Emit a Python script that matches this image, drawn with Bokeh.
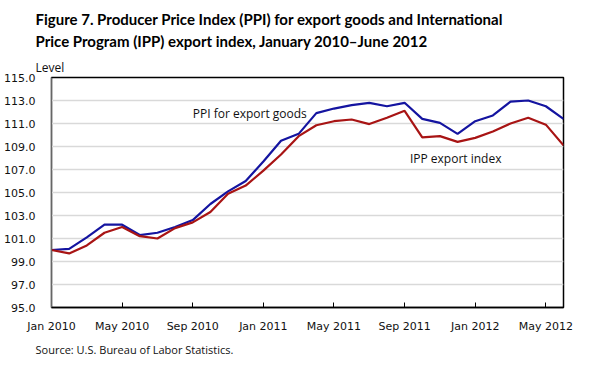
from bokeh.plotting import figure
from bokeh.models import FixedTicker, Label, NumeralTickFormatter, Title
from bokeh.embed import file_html
from bokeh.resources import INLINE

months = ["Jan 2010", "Feb 2010", "Mar 2010", "Apr 2010", "May 2010", "Jun 2010",
          "Jul 2010", "Aug 2010", "Sep 2010", "Oct 2010", "Nov 2010", "Dec 2010",
          "Jan 2011", "Feb 2011", "Mar 2011", "Apr 2011", "May 2011", "Jun 2011",
          "Jul 2011", "Aug 2011", "Sep 2011", "Oct 2011", "Nov 2011", "Dec 2011",
          "Jan 2012", "Feb 2012", "Mar 2012", "Apr 2012", "May 2012", "Jun 2012"]

ppi_export = [100.0, 100.1, 101.1, 102.2, 102.2, 101.3, 101.5, 102.0, 102.6, 104.0, 105.1, 106.0,
              107.7, 109.5, 110.1, 111.9, 112.3, 112.6, 112.8, 112.5, 112.8, 111.4, 111.05, 110.1,
              111.2, 111.7, 112.9, 113.0, 112.5, 111.4]

ipp_export = [100.0, 99.7, 100.4, 101.5, 102.0, 101.2, 101.0, 101.9, 102.4, 103.3, 104.9, 105.6,
              106.9, 108.3, 109.9, 110.85, 111.2, 111.35, 110.95, 111.5, 112.1, 109.8, 109.9, 109.4,
              109.75, 110.3, 111.0, 111.5, 110.9, 109.1]

x_tick_labels = ["Jan 2010", "May 2010", "Sep 2010", "Jan 2011", "May 2011", "Sep 2011",
                 "Jan 2012", "May 2012"]
y_ticks = [95, 97, 99, 101, 103, 105, 107, 109, 111, 113, 115]

title_line1 = "Figure 7. Producer Price Index (PPI) for export goods and International"
title_line2 = "Price Program (IPP) export index, January 2010\u2013June 2012"
unit_label = "Level"
source_text = "Source:  U.S. Bureau  of Labor Statistics."

x = list(range(len(months)))
tick_pos = [months.index(m) for m in x_tick_labels]

W, H = 605, 365
p = figure(width=W, height=H, output_backend="svg", toolbar_location=None,
           x_range=(0, len(months) - 1), y_range=(95, 115),
           min_border_left=51, min_border_right=42, min_border_top=77, min_border_bottom=58)
p.background_fill_color = "white"
p.border_fill_color = "white"
p.outline_line_color = "black"
p.outline_line_width = 1.5

p.xgrid.grid_line_color = None
p.ygrid.grid_line_color = "#d9d9d9"
p.ygrid.grid_line_width = 1.5

p.yaxis.ticker = FixedTicker(ticks=y_ticks)
p.yaxis.formatter = NumeralTickFormatter(format="0.0")
p.yaxis.major_tick_line_color = None
p.yaxis.minor_tick_line_color = None
p.yaxis.axis_line_color = "#666666"
p.yaxis.major_label_text_font = "DejaVu Sans"
p.yaxis.major_label_text_font_size = "11px"
p.yaxis.major_label_text_color = "#111111"
p.yaxis.major_label_standoff = 10

p.xaxis.ticker = FixedTicker(ticks=tick_pos)
p.xaxis.major_label_overrides = {pos: lab for pos, lab in zip(tick_pos, x_tick_labels)}
p.xaxis.major_tick_in = 5
p.xaxis.major_tick_out = 0
p.xaxis.minor_tick_line_color = None
p.xaxis.axis_line_color = "black"
p.xaxis.axis_line_width = 1.5
p.xaxis.major_label_text_font = "DejaVu Sans"
p.xaxis.major_label_text_font_size = "11px"
p.xaxis.major_label_text_color = "#111111"
p.xaxis.major_label_standoff = 12

p.line(x, ppi_export, line_color="#1414A0", line_width=2.2)
p.line(x, ipp_export, line_color="#A81414", line_width=2.2)

p.add_layout(Label(x=8.0, y=111.9, text="PPI for export goods", text_font="Open Sans",
                   text_font_size="12px", text_color="#111111", text_baseline="middle"))
p.add_layout(Label(x=20.3, y=108.0, text="IPP export index", text_font="Open Sans",
                   text_font_size="12px", text_color="#111111", text_baseline="middle"))

# Panels above the frame (first added is nearest the frame)
lvl = Title(text=unit_label, align="left", offset=-16, standoff=4, text_font="Open Sans",
            text_font_style="normal", text_font_size="12px", text_color="#111111")
t2 = Title(text=title_line2, align="left", offset=-16, standoff=9, text_font="Lato",
           text_font_style="bold", text_font_size="15px", text_color="black")
t1 = Title(text=title_line1, align="left", offset=-16, standoff=-4, text_font="Lato",
           text_font_style="bold", text_font_size="15px", text_color="black")
p.add_layout(lvl, "above")
p.add_layout(t2, "above")
p.add_layout(t1, "above")

src = Title(text=source_text, align="left", offset=-16, standoff=8, text_font="Open Sans",
            text_font_size="11px", text_font_style="normal", text_color="#111111")
p.add_layout(src, "below")

open("out.html", "w").write(file_html(p, INLINE))
